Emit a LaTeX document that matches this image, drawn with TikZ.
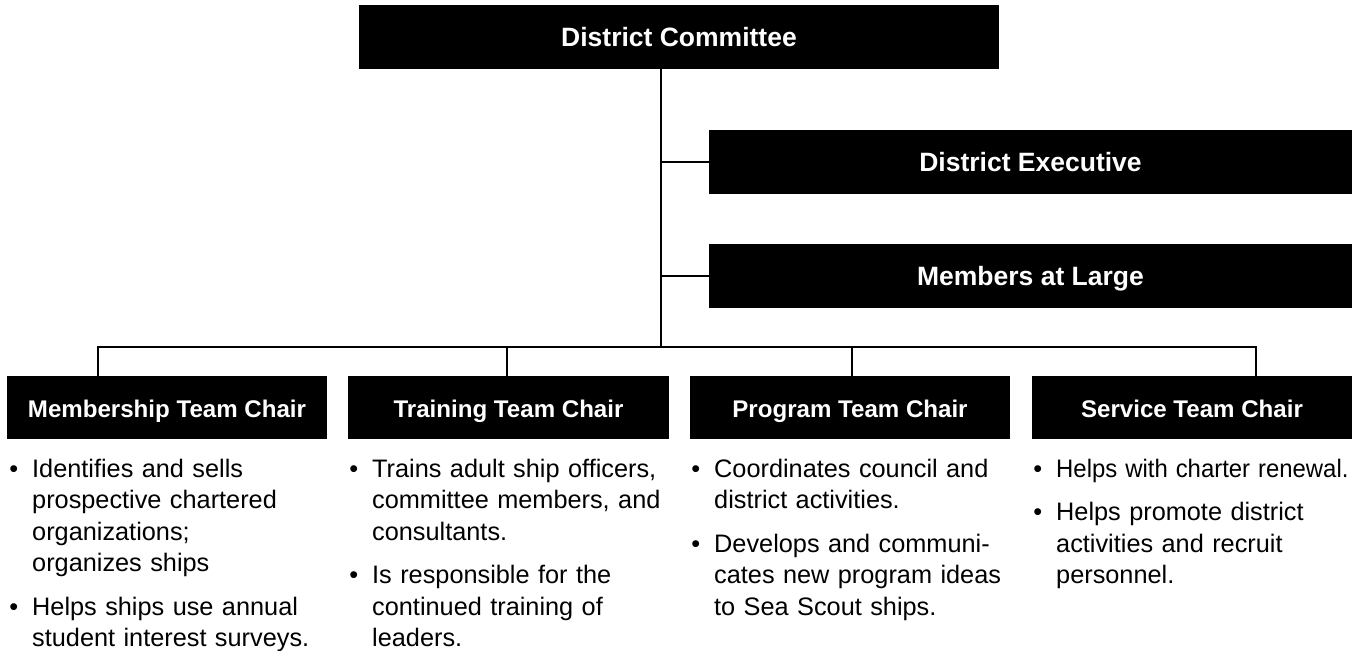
\documentclass[tikz,border=0pt]{standalone}
\usepackage{graphicx}
\usepackage{fontspec}
\setmainfont{Liberation Sans}
\newcommand\itembul{\leavevmode\llap{•\hspace{14bp}}}
\begin{document}
\begin{tikzpicture}[x=1bp,y=-1bp,
  hdr/.style={fill=black,text=white,inner sep=0pt,text height=19.5bp,text depth=0pt,
    font=\bfseries\fontsize{26.5bp}{30bp}\selectfont,minimum height=64bp},
  chair/.style={hdr,font=\bfseries\fontsize{24.1bp}{28bp}\selectfont,minimum width=320bp,minimum height=63bp},
  wire/.style={line width=2.5bp,draw=black},
  desc/.style={anchor=base west,inner sep=0pt,text width=330bp,align=left,
    font=\fontsize{25.3bp}{31.5bp}\selectfont}]
\useasboundingbox (0,0) rectangle (1353,651);
% top level
\node[hdr,minimum width=640bp] (dc) at (679,37) {District Committee};
\node[hdr,minimum width=643bp] (de) at (1030.5,162) {District Executive};
\node[hdr,minimum width=643bp] (mal) at (1030.5,276) {Members at Large};
% chairs
\node[chair] (mem) at (167,407.5) {Membership Team Chair};
\node[chair,minimum width=321bp] (trn) at (508.5,407.5) {Training Team Chair};
\node[chair] (prg) at (850,407.5) {Program Team Chair};
\node[chair] (svc) at (1192,407.5) {Service Team Chair};
% connector coordinates
\coordinate (spine) at (661,347);
\coordinate (dm) at (98,347);
\coordinate (dt) at (507,347);
\coordinate (dp) at (852,347);
\coordinate (ds) at (1256,347);
\draw[wire] (dc.south -| spine) -- (spine);
\draw[wire] (de.west -| spine) -- (de.west);
\draw[wire] (mal.west -| spine) -- (mal.west);
\draw[wire] (dm |- mem.north) -- (dm) -- (ds) -- (ds |- svc.north);
\draw[wire] (dt) -- (dt |- trn.north);
\draw[wire] (dp) -- (dp |- prg.north);
% descriptions
\node[desc] (memtxt) at (32,477) {\itembul Identifies and sells\\
prospective chartered\\
organizations;\\
organizes ships\\[12bp]
\itembul Helps ships use annual\\
student interest surveys.};
\node[desc] (trntxt) at (372,477) {\itembul Trains adult ship officers,\\
committee members, and\\
consultants.\\[12bp]
\itembul Is responsible for the\\
continued training of\\
leaders.};
\node[desc] (prgtxt) at (714,477) {\itembul Coordinates council and\\
district activities.\\[12bp]
\itembul Develops and communi-\\
cates new program ideas\\
to Sea Scout ships.};
\node[desc] (svctxt) at (1056,477) {\itembul \scalebox{0.945}[1]{Helps with charter renewal.}\\[12bp]
\itembul Helps promote district\\
activities and recruit\\
personnel.};
\end{tikzpicture}
\end{document}
